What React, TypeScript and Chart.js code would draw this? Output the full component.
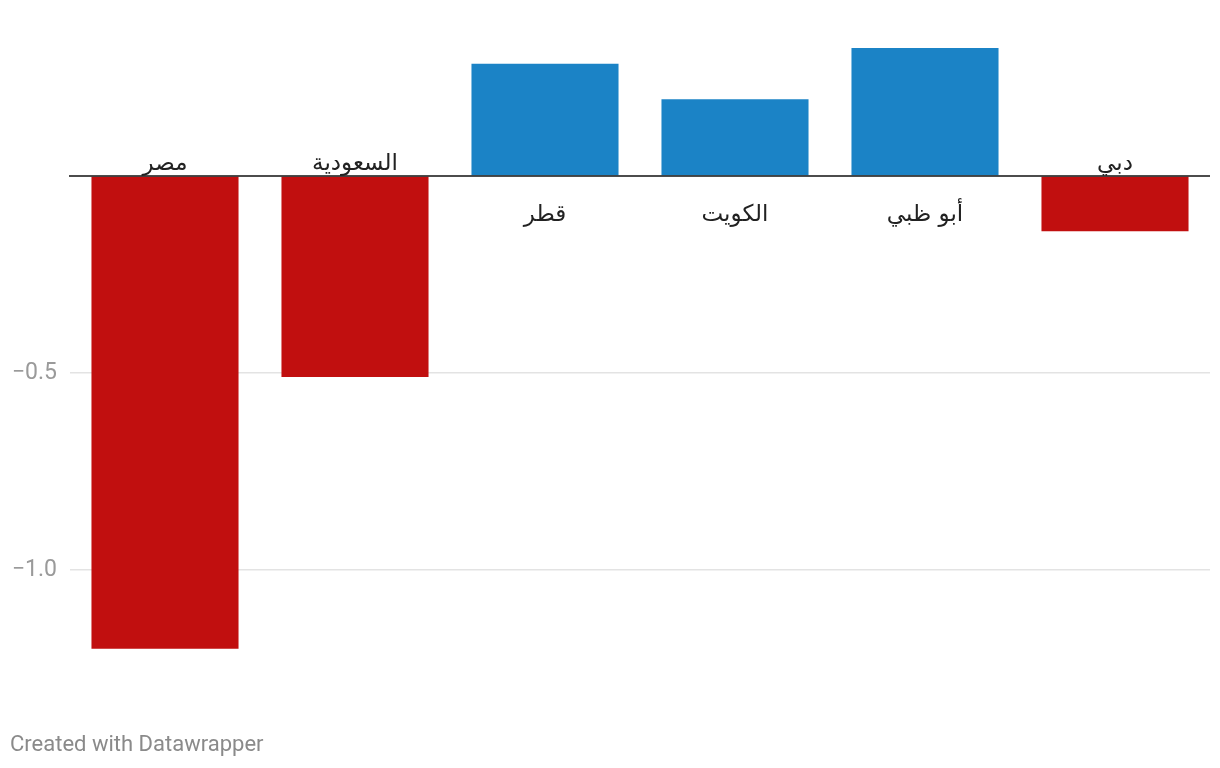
import React, { useEffect, useRef } from "react";
import { Chart, registerables } from "chart.js";

Chart.register(...registerables);

const categories = ["مصر", "السعودية", "قطر", "الكويت", "أبو ظبي", "دبي"];
const values = [-1.2, -0.51, 0.285, 0.195, 0.325, -0.14];
const yTicks = [-1.0, -0.5, 0];
const yTickLabels = ["−1.0", "−0.5", ""];

const POS = "#1b83c6";
const NEG = "#c10f0f";

const labelPlugin = {
  id: "labelsAndZero",
  afterDatasetsDraw(chart: any) {
    const { ctx, chartArea, scales } = chart;
    const y0 = scales.y.getPixelForValue(0);
    ctx.save();
    ctx.strokeStyle = "#111";
    ctx.lineWidth = 1.6;
    ctx.beginPath();
    ctx.moveTo(chartArea.left - 1, y0);
    ctx.lineTo(chartArea.right, y0);
    ctx.stroke();
    ctx.font = '23px "DejaVu Sans", "Noto Sans", sans-serif';
    ctx.fillStyle = "#222";
    ctx.textAlign = "center";
    categories.forEach((c, i) => {
      const x = scales.x.getPixelForValue(i);
      if (values[i] < 0) {
        ctx.textBaseline = "alphabetic";
        ctx.fillText(c, x, y0 - 6);
      } else {
        ctx.textBaseline = "middle";
        ctx.fillText(c, x, y0 + 39);
      }
    });
    ctx.restore();
  },
};

export default function App() {
  const ref = useRef<HTMLCanvasElement>(null);
  useEffect(() => {
    if (!ref.current) return;
    const chart = new Chart(ref.current, {
      type: "bar",
      data: {
        labels: categories,
        datasets: [
          {
            data: values,
            backgroundColor: values.map((v) => (v < 0 ? NEG : POS)),
            barPercentage: 0.774,
            categoryPercentage: 1,
          },
        ],
      },
      options: {
        animation: false,
        responsive: false,
        maintainAspectRatio: false,
        layout: { padding: { top: 18.4, bottom: 768 - 688.2, right: 10, left: 0 } },
        plugins: { legend: { display: false }, tooltip: { enabled: false } },
        scales: {
          x: { display: false },
          y: {
            min: -1.3,
            max: 0.4,
            afterFit(scale: any) {
              scale.width = 70;
              scale.paddingTop = 0;
              scale.paddingBottom = 0;
            },
            afterBuildTicks(scale: any) {
              scale.ticks = yTicks.map((v) => ({ value: v }));
            },
            border: { display: false },
            grid: {
              drawTicks: false,
              color: (c: any) => (c.tick && c.tick.value === 0 ? "rgba(0,0,0,0)" : "#e3e3e3"),
              lineWidth: 1.5,
            },
            ticks: {
              padding: 13,
              color: "#9a9a9a",
              font: { family: "Roboto", size: 23 },
              callback: (v: any) => {
                const i = yTicks.indexOf(Number(v));
                return i >= 0 ? yTickLabels[i] : "";
              },
            },
          },
        },
      },
      plugins: [labelPlugin],
    });
    return () => chart.destroy();
  }, []);
  return (
    <div style={{ position: "fixed", left: 0, top: 0, width: 1220, height: 768, background: "#fff" }}>
      <canvas ref={ref} width={1220} height={768} style={{ display: "block" }} />
      <div
        style={{
          position: "absolute",
          left: 10,
          top: 731,
          fontFamily: "Roboto",
          fontSize: 22,
          lineHeight: "26px",
          color: "#8a8a8a",
        }}
      >
        Created with Datawrapper
      </div>
    </div>
  );
}
